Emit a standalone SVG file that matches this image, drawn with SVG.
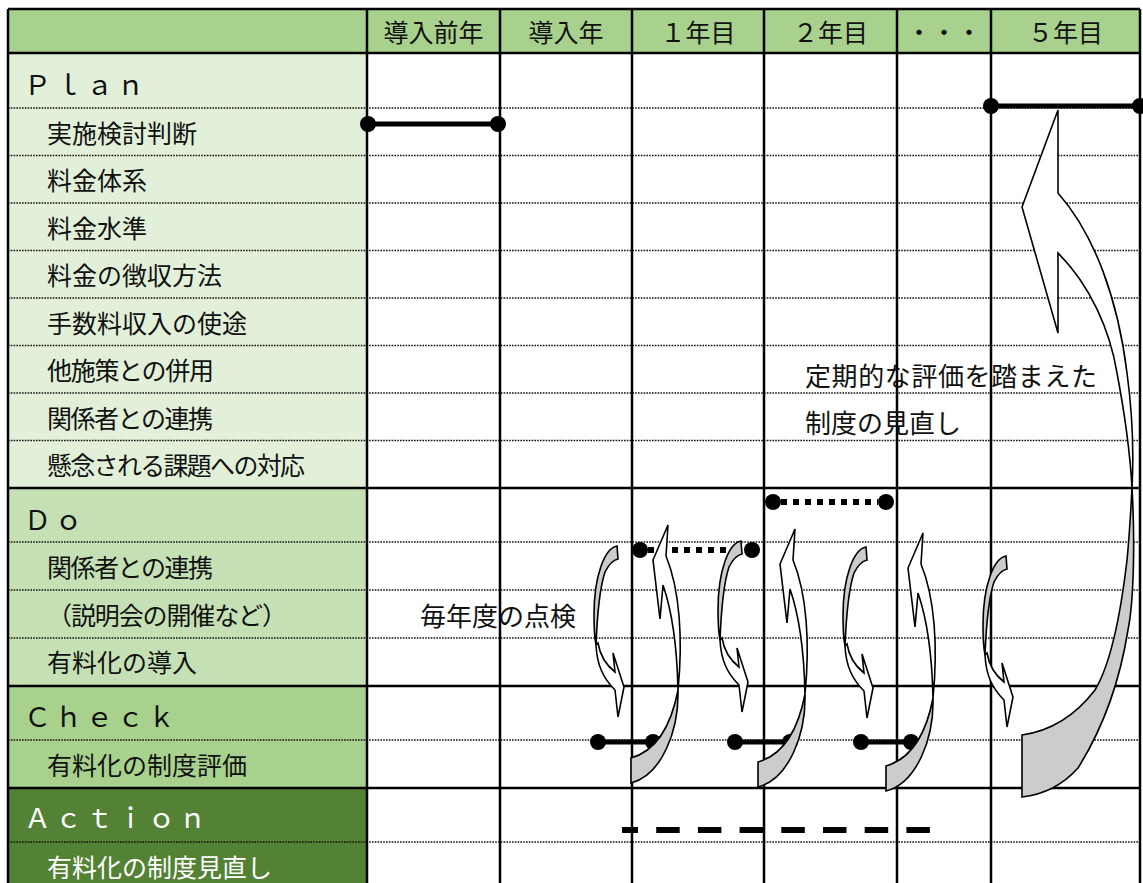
<svg xmlns="http://www.w3.org/2000/svg" xmlns:xlink="http://www.w3.org/1999/xlink" width="1143" height="883" viewBox="0 0 1143 883">
<style>
.solid{stroke:#000;stroke-width:2.5;fill:none}
.dot{stroke:#111;stroke-width:1.5;stroke-dasharray:1.6 1.2;fill:none}
.t{font-family:"Noto Sans CJK JP","Noto Sans CJK SC",sans-serif;font-size:25px;fill:#111}
.hd{text-anchor:middle}
.sec{font-size:27px;letter-spacing:4px}
.w{fill:#fff}
.big{font-size:26px}
.bar{stroke:#000;stroke-width:5;fill:none}
.sq{stroke:#000;stroke-width:6;stroke-dasharray:6 6;fill:none}
.dash{stroke:#000;stroke-width:6;stroke-dasharray:23.5 18.2;stroke-dashoffset:7.5;fill:none}
.arrW{fill:#fff;stroke:#000;stroke-width:1.6;stroke-linejoin:miter}
.arrG{fill:#ccc;stroke:#000;stroke-width:1.6}
</style>
<defs>
<g id="downArrow">
<path class="arrG" d="M617,546 C605,548 594,575 594,615 C594,630 595,640 596,645 C597,620 599,590 605,572 C609,564 613,560 618,559 Z"/>
<path class="arrW" d="M596,645 C597,665 603,678 615,690 L618,717 L624,687 L613,653 L615,672 C606,665 600,655 598,643 Z"/>
</g>
<g id="upArrow">
<path class="arrW" d="M668,525 L653,560 L660,619 L663,585 C671,608 677,645 678,690 C683,640 680,590 666,556 Z"/>
<path class="arrG" d="M631,758 C652,752 670,732 678,690 C679,730 662,775 631,783 Z"/>
</g>
</defs>

<g id="backgrounds">
<rect x="8" y="9" width="1132" height="44" fill="#A9D18E"/>
<rect x="8" y="53" width="359" height="435" fill="#E2F0D9"/>
<rect x="8" y="488" width="359" height="198" fill="#C5E0B4"/>
<rect x="8" y="686" width="359" height="102" fill="#A9D18E"/>
<rect x="8" y="788" width="359" height="95" fill="#548235"/>
<rect x="367" y="53" width="773" height="830" fill="#fff"/>
</g>

<g id="grid">
<path class="dot" d="M8,108H1140M8,155.5H1140M8,203H1140M8,250.5H1140M8,298H1140M8,345.5H1140M8,393H1140M8,440.5H1140M8,542H1140M8,590H1140M8,638H1140M8,740H1140M8,842H1140"/>
<path class="solid" d="M8,9H1140M8,53H1140M8,488H1140M8,686H1140M8,788H1140"/>
<path class="solid" d="M8,9V883M367,9V883M500,9V883M632,9V883M764,9V883M897,9V883M991,9V883M1140,9V883"/>
</g>

<g id="header">
<text class="t hd" x="433.5" y="42">導入前年</text>
<text class="t hd" x="566" y="42">導入年</text>
<text class="t hd" x="698" y="42">１年目</text>
<text class="t hd" x="830.5" y="42">２年目</text>
<text class="t hd" x="944" y="42">・・・</text>
<text class="t hd" x="1065.5" y="42">５年目</text>
</g>

<g id="plan">
<text class="t sec" x="24" y="95">Ｐｌａｎ</text>
<text class="t" x="47" y="143">実施検討判断</text>
<text class="t" x="47" y="190">料金体系</text>
<text class="t" x="47" y="238">料金水準</text>
<text class="t" x="47" y="285">料金の徴収方法</text>
<text class="t" x="47" y="333">手数料収入の使途</text>
<text class="t" x="47" y="380" textLength="167">他施策との併用</text>
<text class="t" x="47" y="428" textLength="166">関係者との連携</text>
<text class="t" x="47" y="475" textLength="258">懸念される課題への対応</text>
</g>

<g id="do">
<text class="t sec" x="24" y="530">Ｄｏ</text>
<text class="t" x="47" y="577" textLength="166">関係者との連携</text>
<text class="t" x="47" y="625" textLength="240">（説明会の開催など）</text>
<text class="t" x="47" y="672">有料化の導入</text>
</g>

<g id="check">
<text class="t sec" x="24" y="727">Ｃｈｅｃｋ</text>
<text class="t" x="47" y="775">有料化の制度評価</text>
</g>

<g id="action">
<text class="t sec w" x="24" y="828">Ａｃｔｉｏｎ</text>
<text class="t w" x="47" y="877">有料化の制度見直し</text>
</g>

<g id="notes">
<text class="t big" x="420" y="626">毎年度の点検</text>
<text class="t big" x="805" y="386" textLength="292">定期的な評価を踏まえた</text>
<text class="t big" x="805" y="433">制度の見直し</text>
</g>

<g id="connectors">
<path class="bar" d="M368,124H498"/>
<circle cx="368" cy="124" r="8"/><circle cx="498" cy="124" r="8"/>
<path class="bar" d="M991,106H1140"/>
<circle cx="991" cy="106" r="8"/><circle cx="1140" cy="106" r="8"/>
<path class="sq" d="M781,502H878"/>
<circle cx="773" cy="502" r="8"/><circle cx="886" cy="502" r="8"/>
<path class="sq" d="M648,550H744"/>
<circle cx="640" cy="550" r="8"/><circle cx="752" cy="550" r="8"/>
<path class="bar" d="M598,742H653M735,742H790M861,742H911"/>
<circle cx="598" cy="742" r="8"/><circle cx="653" cy="742" r="8"/>
<circle cx="735" cy="742" r="8"/><circle cx="790" cy="742" r="8"/>
<circle cx="861" cy="742" r="8"/><circle cx="911" cy="742" r="8"/>
<path class="dash" d="M622,830H932"/>
<use xlink:href="#downArrow"/>
<use xlink:href="#downArrow" transform="translate(124,-5)"/>
<use xlink:href="#downArrow" transform="translate(249,1)"/>
<use xlink:href="#downArrow" transform="translate(389,10)"/>
<use xlink:href="#upArrow"/>
<use xlink:href="#upArrow" transform="translate(127,4)"/>
<use xlink:href="#upArrow" transform="translate(255,8)"/>
<path class="arrG" d="M1022,735 C1050,731 1075,716 1095,690 C1110,665 1120,620 1127,560 C1130,530 1131,505 1132,488 C1135,540 1134,600 1128,630 C1120,680 1105,725 1078,768 C1060,788 1040,795 1022,797 Z"/>
<path class="arrW" d="M1058,110 L1022,207 L1058,333 L1058,253 C1090,285 1110,330 1117,373 C1124,410 1130,450 1132,488 C1134,450 1132,410 1127,373 C1118,300 1095,235 1058,193 Z"/>
</g>
</svg>
